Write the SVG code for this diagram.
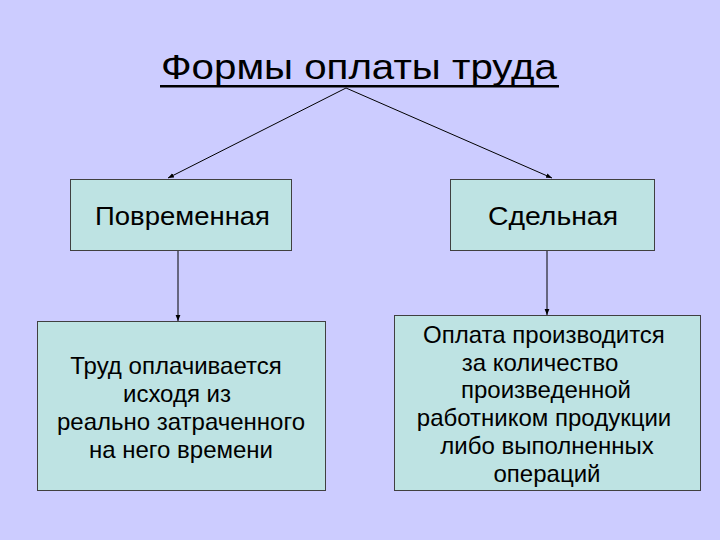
<svg xmlns="http://www.w3.org/2000/svg" width="720" height="540" viewBox="0 0 720 540">
<style>
  .box { fill: #BEE3E3; stroke: #404040; stroke-width: 1; }
  .t { font-family: "Liberation Sans", Arial, sans-serif; fill: #000; text-anchor: middle; }
  .lbl { font-size: 25px; }
  .body { font-size: 24px; }
  .conn { stroke: #000; stroke-width: 1; fill: none; marker-end: url(#arr); }
</style>
<defs>
  <marker id="arr" viewBox="0 0 10 10" refX="10" refY="5" markerWidth="6" markerHeight="6" orient="auto" markerUnits="userSpaceOnUse">
    <path d="M0,1 L10,5 L0,9 Z" fill="#000"/>
  </marker>
</defs>
<rect x="0" y="0" width="720" height="540" fill="#CCCCFF"/>
<g id="title">
  <text class="t" x="359" y="79" font-size="35" textLength="396" lengthAdjust="spacingAndGlyphs">Формы оплаты труда</text>
  <rect x="160" y="85" width="399" height="2.5" fill="#000"/>
</g>
<g id="connectors">
  <line class="conn" x1="346" y1="88" x2="168" y2="178"/>
  <line class="conn" x1="346" y1="88" x2="552" y2="178"/>
  <line class="conn" x1="178" y1="251" x2="178" y2="321"/>
  <line class="conn" x1="547" y1="251" x2="547" y2="315"/>
</g>
<g id="node-povremennaya">
  <rect class="box" x="70.5" y="179.5" width="221" height="71"/>
  <text class="t lbl" x="182.5" y="225" textLength="175" lengthAdjust="spacingAndGlyphs">Повременная</text>
</g>
<g id="node-sdelnaya">
  <rect class="box" x="450.5" y="179.5" width="204" height="71"/>
  <text class="t lbl" x="553" y="225" textLength="130" lengthAdjust="spacingAndGlyphs">Сдельная</text>
</g>
<g id="node-left-desc">
  <rect class="box" x="37.5" y="321.5" width="288" height="169"/>
  <text class="t body" x="176" y="374">Труд оплачивается</text>
  <text class="t body" x="177" y="402">исходя из</text>
  <text class="t body" x="181" y="430">реально затраченного</text>
  <text class="t body" x="181" y="458">на него времени</text>
</g>
<g id="node-right-desc">
  <rect class="box" x="394.5" y="315.5" width="306" height="175"/>
  <text class="t body" x="544" y="343">Оплата производится</text>
  <text class="t body" x="540" y="371">за количество</text>
  <text class="t body" x="546" y="398">произведенной</text>
  <text class="t body" x="544" y="426">работником продукции</text>
  <text class="t body" x="547" y="454">либо выполненных</text>
  <text class="t body" x="547" y="482">операций</text>
</g>
</svg>
